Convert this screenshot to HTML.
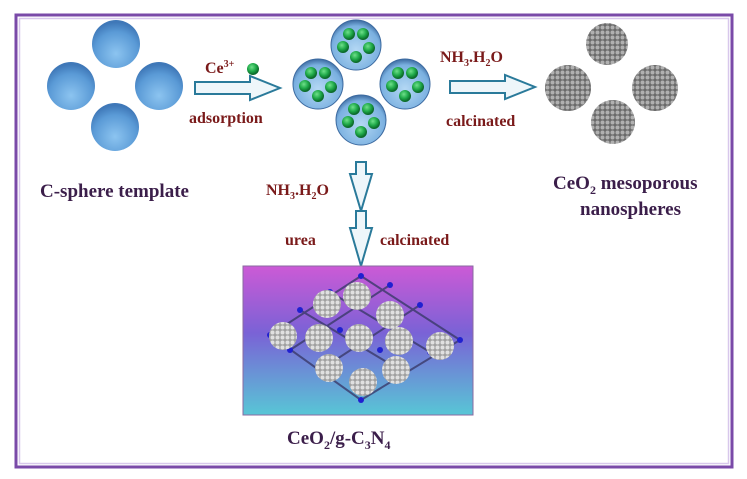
<!DOCTYPE html>
<html><head><meta charset="utf-8"><style>
html,body{margin:0;padding:0;background:#fff;}
svg{display:block;}
text{font-family:"Liberation Serif",serif;font-weight:bold;}
</style></head><body>
<svg width="747" height="479" viewBox="0 0 747 479" xmlns="http://www.w3.org/2000/svg">
<defs>
<radialGradient id="bl" cx="0.5" cy="0.7" r="0.65">
<stop offset="0" stop-color="#8cc4f0"/><stop offset="0.7" stop-color="#5a9ad6"/><stop offset="1" stop-color="#3f78b8"/>
</radialGradient>
<radialGradient id="bl2" cx="0.5" cy="0.6" r="0.6">
<stop offset="0" stop-color="#b4d8f4"/><stop offset="0.8" stop-color="#7ab0e0"/><stop offset="1" stop-color="#3c6aa0"/>
</radialGradient>
<radialGradient id="gr" cx="0.4" cy="0.35" r="0.6">
<stop offset="0" stop-color="#6fe08a"/><stop offset="0.6" stop-color="#1ea848"/><stop offset="1" stop-color="#0c6a2a"/>
</radialGradient>
<pattern id="dots" width="5" height="5" patternUnits="userSpaceOnUse">
<rect width="5" height="5" fill="#6a6a6a"/><circle cx="2.5" cy="2.5" r="2" fill="#b0b0b0"/>
</pattern>
<pattern id="dots2" width="5" height="5" patternUnits="userSpaceOnUse">
<rect width="5" height="5" fill="#a0a0a0"/><circle cx="2.5" cy="2.5" r="2" fill="#e0e0e0"/>
</pattern>
<linearGradient id="box" x1="0" y1="0" x2="0" y2="1">
<stop offset="0" stop-color="#cc5ad6"/><stop offset="0.45" stop-color="#7a62d6"/><stop offset="1" stop-color="#58c6d6"/>
</linearGradient>
<g id="g5">
<circle cx="-7" cy="-11" r="6" fill="url(#gr)"/><circle cx="7" cy="-11" r="6" fill="url(#gr)"/>
<circle cx="-13" cy="2" r="6" fill="url(#gr)"/><circle cx="13" cy="3" r="6" fill="url(#gr)"/>
<circle cx="0" cy="12" r="6" fill="url(#gr)"/>
</g>
</defs>
<rect x="16" y="15" width="716" height="452" fill="none" stroke="#7a4aa8" stroke-width="3"/>
<rect x="19.5" y="18.5" width="709" height="445" fill="none" stroke="#d8c8ec" stroke-width="1.5"/>

<circle cx="116" cy="44" r="24" fill="url(#bl)"/>
<circle cx="71" cy="86" r="24" fill="url(#bl)"/>
<circle cx="159" cy="86" r="24" fill="url(#bl)"/>
<circle cx="115" cy="127" r="24" fill="url(#bl)"/>
<text x="40" y="197" font-size="19" fill="#3b1e4a">C-sphere template</text>

<path d="M195,82 H250 V76 L280,88 L250,100 V94 H195 Z" fill="#eef6fa" stroke="#2a7a9a" stroke-width="2"/>
<text x="205" y="73" font-size="16" fill="#7a1a1a">Ce<tspan font-size="10" dy="-6">3+</tspan></text>
<circle cx="253" cy="69" r="6" fill="url(#gr)"/>
<text x="189" y="123" font-size="16" fill="#7a1a1a">adsorption</text>

<g><circle cx="356" cy="45" r="25" fill="url(#bl2)" stroke="#3c6aa0"/><use href="#g5" x="356" y="45"/></g>
<g><circle cx="318" cy="84" r="25" fill="url(#bl2)" stroke="#3c6aa0"/><use href="#g5" x="318" y="84"/></g>
<g><circle cx="405" cy="84" r="25" fill="url(#bl2)" stroke="#3c6aa0"/><use href="#g5" x="405" y="84"/></g>
<g><circle cx="361" cy="120" r="25" fill="url(#bl2)" stroke="#3c6aa0"/><use href="#g5" x="361" y="120"/></g>

<path d="M450,81 H505 V75 L535,87 L505,99 V93 H450 Z" fill="#eef6fa" stroke="#2a7a9a" stroke-width="2"/>
<text x="440" y="62" font-size="16" fill="#7a1a1a">NH<tspan font-size="10" dy="4">3</tspan><tspan dy="-4">.H</tspan><tspan font-size="10" dy="4">2</tspan><tspan dy="-4">O</tspan></text>
<text x="446" y="126" font-size="16" fill="#7a1a1a">calcinated</text>

<circle cx="607" cy="44" r="21" fill="url(#dots)"/>
<circle cx="568" cy="88" r="23" fill="url(#dots)"/>
<circle cx="655" cy="88" r="23" fill="url(#dots)"/>
<circle cx="613" cy="122" r="22" fill="url(#dots)"/>
<text x="553" y="189" font-size="19" fill="#3b1e4a">CeO<tspan font-size="12" dy="5">2</tspan><tspan dy="-5"> mesoporous</tspan></text>
<text x="580" y="215" font-size="19" fill="#3b1e4a">nanospheres</text>

<path d="M356,162 H366 V174 H372 L361,211 L350,174 H356 Z" fill="#eef6fa" stroke="#2a7a9a" stroke-width="2"/>
<path d="M356,211 H366 V228 H372 L361,266 L350,228 H356 Z" fill="#eef6fa" stroke="#2a7a9a" stroke-width="2"/>
<text x="266" y="195" font-size="16" fill="#7a1a1a">NH<tspan font-size="10" dy="4">3</tspan><tspan dy="-4">.H</tspan><tspan font-size="10" dy="4">2</tspan><tspan dy="-4">O</tspan></text>
<text x="285" y="245" font-size="16" fill="#7a1a1a">urea</text>
<text x="380" y="245" font-size="16" fill="#7a1a1a">calcinated</text>

<rect x="243" y="266" width="230" height="149" fill="url(#box)" stroke="#8a6aa0"/>
<g stroke="#3a3a6a" stroke-width="2" fill="none" opacity="0.8">
<path d="M361,276 L270,335 L361,400 L460,340 Z"/>
<path d="M300,310 L400,370 M330,292 L430,352 M320,370 L420,305 M290,350 L390,285"/>
</g>
<g fill="#2020d0">
<circle cx="361" cy="276" r="3"/><circle cx="270" cy="335" r="3"/><circle cx="361" cy="400" r="3"/><circle cx="460" cy="340" r="3"/>
<circle cx="300" cy="310" r="3"/><circle cx="330" cy="292" r="3"/><circle cx="400" cy="370" r="3"/><circle cx="430" cy="352" r="3"/>
<circle cx="320" cy="370" r="3"/><circle cx="420" cy="305" r="3"/><circle cx="290" cy="350" r="3"/><circle cx="390" cy="285" r="3"/>
<circle cx="340" cy="330" r="3"/><circle cx="380" cy="350" r="3"/>
</g>
<circle cx="357" cy="296" r="14" fill="url(#dots2)"/>
<circle cx="327" cy="304" r="14" fill="url(#dots2)"/>
<circle cx="390" cy="315" r="14" fill="url(#dots2)"/>
<circle cx="283" cy="336" r="14" fill="url(#dots2)"/>
<circle cx="319" cy="338" r="14" fill="url(#dots2)"/>
<circle cx="359" cy="338" r="14" fill="url(#dots2)"/>
<circle cx="399" cy="341" r="14" fill="url(#dots2)"/>
<circle cx="440" cy="346" r="14" fill="url(#dots2)"/>
<circle cx="329" cy="368" r="14" fill="url(#dots2)"/>
<circle cx="363" cy="382" r="14" fill="url(#dots2)"/>
<circle cx="396" cy="370" r="14" fill="url(#dots2)"/>
<text x="287" y="444" font-size="19" fill="#3b1e4a">CeO<tspan font-size="12" dy="5">2</tspan><tspan dy="-5">/g-C</tspan><tspan font-size="12" dy="5">3</tspan><tspan dy="-5">N</tspan><tspan font-size="12" dy="5">4</tspan></text>
</svg>
</body></html>
